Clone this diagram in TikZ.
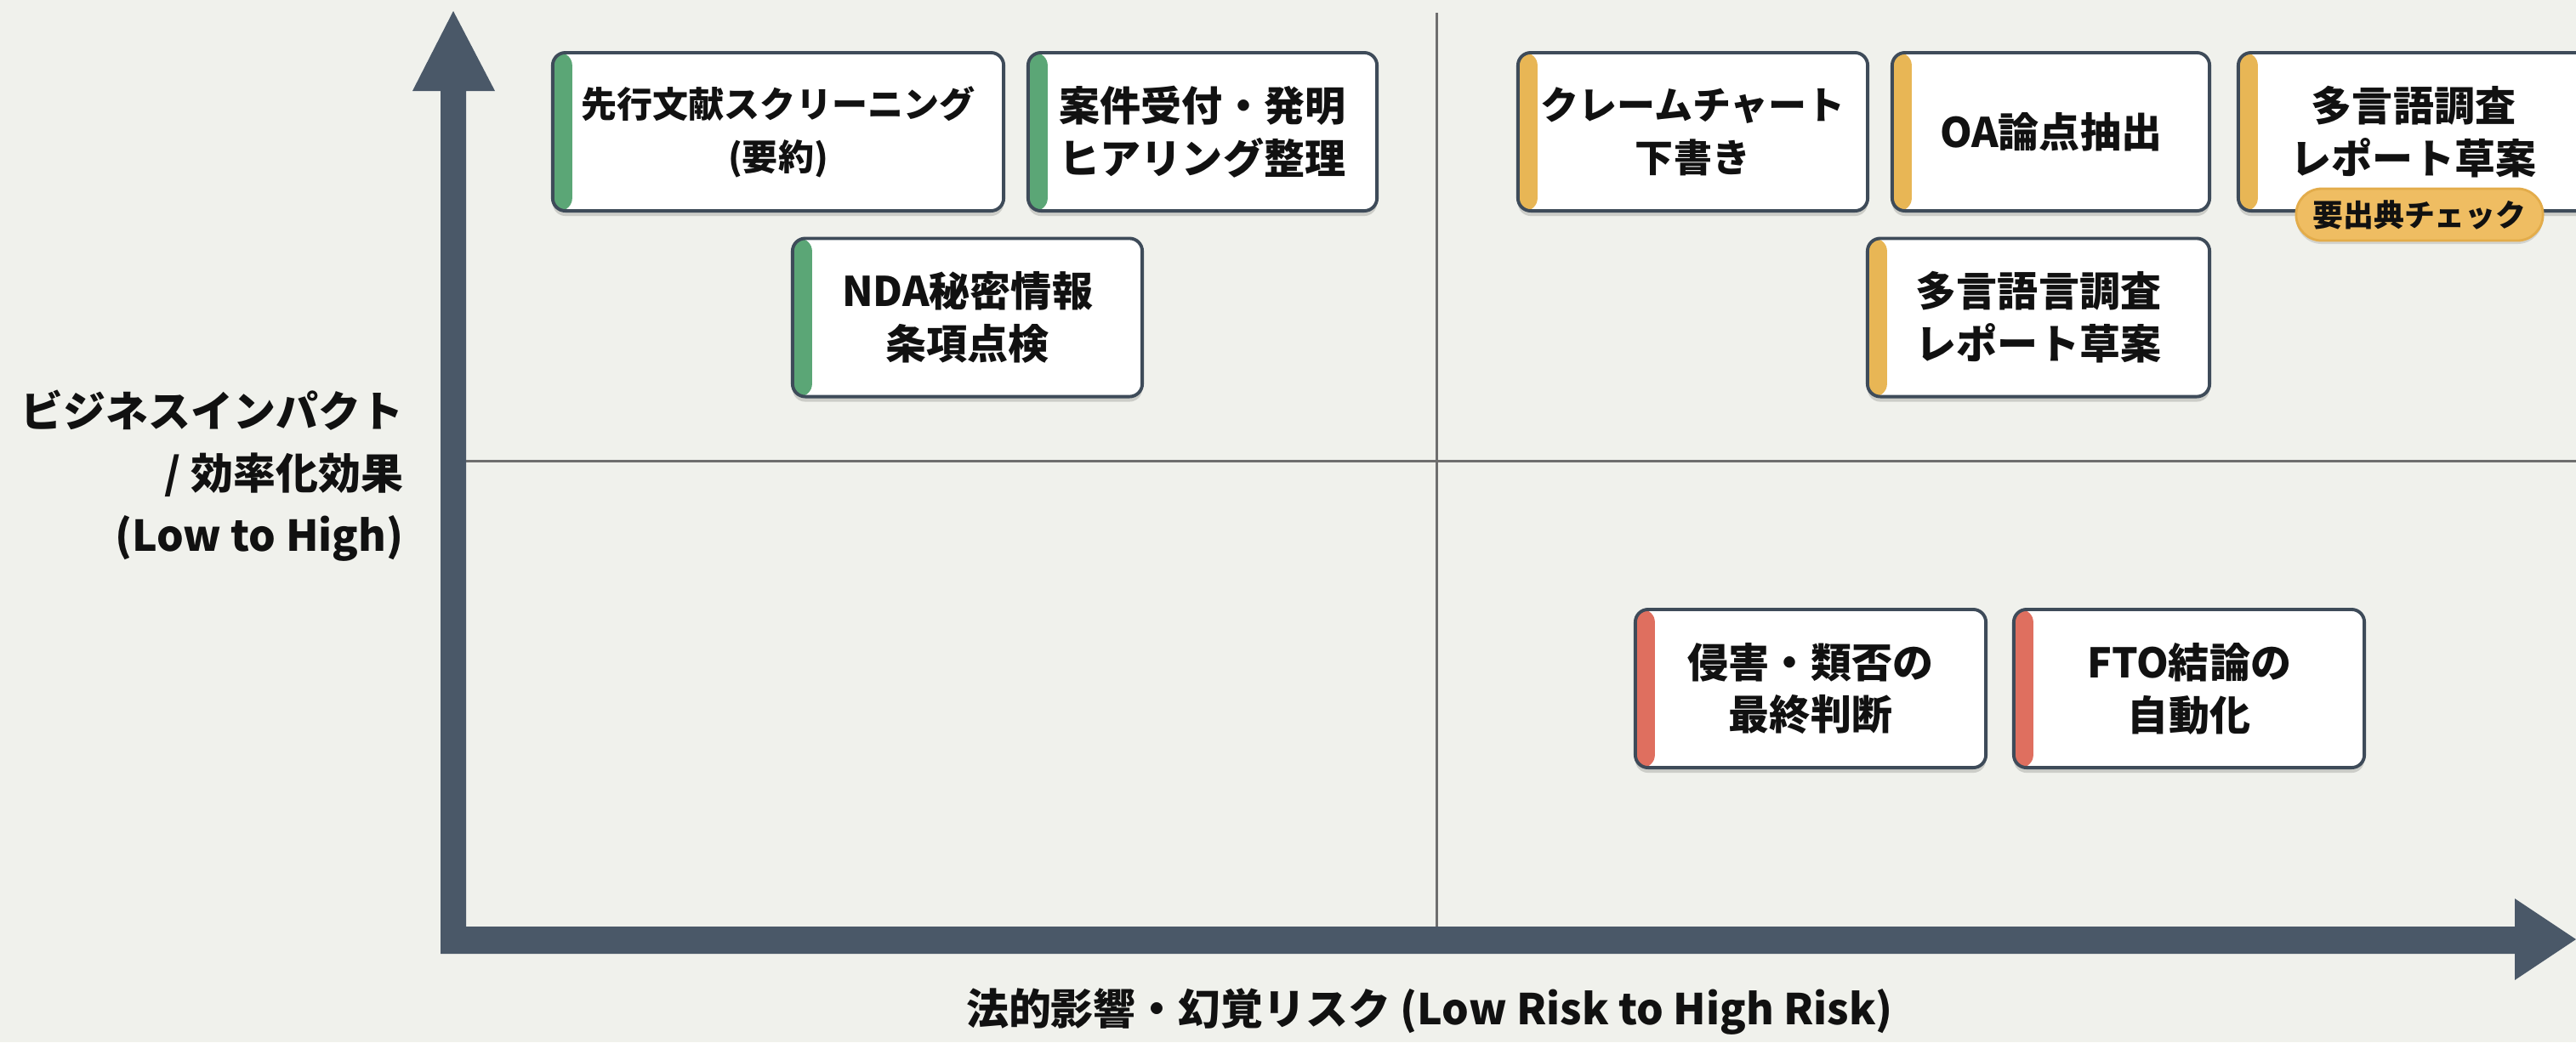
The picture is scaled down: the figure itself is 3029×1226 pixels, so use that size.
\documentclass[tikz,border=0pt]{standalone}
\usepackage{fontspec}
\setmainfont{Noto Sans CJK JP}
\usetikzlibrary{shadows}
\definecolor{bgc}{HTML}{F0F1EC}
\definecolor{axisc}{HTML}{4A5868}
\definecolor{gridc}{HTML}{6E6E6E}
\definecolor{cardb}{HTML}{3E4B59}
\definecolor{grn}{HTML}{5BA676}
\definecolor{gld}{HTML}{E8B655}
\definecolor{rdc}{HTML}{DF6F5F}
\definecolor{badgec}{HTML}{EFBD62}
\definecolor{badgeb}{HTML}{E3AC4A}
\definecolor{txt}{HTML}{111111}
\newcommand{\cardfont}{\bfseries\fontsize{13.66pt}{17.6pt}\selectfont}
\newcommand{\cardfontmd}{\bfseries\fontsize{12.8pt}{17.6pt}\selectfont}
\newcommand{\cardfontsm}{\bfseries\fontsize{11.95pt}{17.6pt}\selectfont}
\newcommand{\axisfont}{\bfseries\fontsize{14.2pt}{20.8pt}\selectfont}
\newcommand{\badgefont}{\bfseries\fontsize{10.2pt}{12pt}\selectfont}
\tikzset{
  card/.style={draw=cardb, line width=1.1pt, fill=white, rounded corners=0.15cm,
    minimum height=1.86cm, align=center, font=\cardfont, text=txt, inner sep=0pt,
    drop shadow={opacity=0.15, shadow xshift=0pt, shadow yshift=-0.06cm, fill=black},
    path picture={\fill[#1] (path picture bounding box.north west) rectangle ([xshift=0.23cm]path picture bounding box.south west);}},
  badge/.style={fill=badgec, draw=badgeb, line width=0.8pt, rounded corners=0.3cm,
    minimum width=2.90cm, minimum height=0.61cm, inner sep=0pt, font=\badgefont, text=txt,
    drop shadow={opacity=0.12, shadow xshift=0pt, shadow yshift=-0.04cm, fill=black}},
  axislabel/.style={font=\axisfont, text=txt, inner sep=0pt},
  gridline/.style={draw=gridc, line width=0.85pt},
}
\begin{document}
\begin{tikzpicture}[x=0.01cm,y=-0.01cm]
\useasboundingbox (0,0) rectangle (3029,1226);
\clip (0,0) rectangle (3029,1226);
\fill[bgc] (0,0) rectangle (3029,1226);
% quadrant lines
\draw[gridline] (1689,15) -- (1689,1092);
\draw[gridline] (548,542) -- (3029,542);
% axes
\fill[axisc] (518,107) -- (518,1122) -- (2957,1122) -- (2957,1153) -- (3029,1105)
  -- (2957,1057) -- (2957,1090) -- (548,1090) -- (548,107) -- (582,107) -- (533,13)
  -- (485,107) -- cycle;
% axis labels
\node[axislabel, align=right, anchor=east] (ylab) at (475,560)
  {ビジネスインパクト\\/ 効率化効果\\(Low to High)};
\node[axislabel] (xlab) at (1681,1190) {法的影響・幻覚リスク (Low Risk to High Risk)};
% cards
\node[card=grn, minimum width=5.30cm, font=\cardfontsm] (c1) at (915,155) {先行文献スクリーニング\\(要約)};
\node[card=grn, minimum width=4.10cm] (c2) at (1414,155) {案件受付・発明\\ヒアリング整理};
\node[card=grn, minimum width=4.11cm] (c3) at (1137.5,373.5) {NDA秘密情報\\条項点検};
\node[card=gld, minimum width=4.11cm, font=\cardfontmd] (c4) at (1990.5,155) {クレームチャート\\下書き};
\node[card=gld, minimum width=3.73cm] (c5) at (2411.5,155) {OA論点抽出};
\node[card=gld, minimum width=4.12cm] (c6) at (2838,155) {多言語調査\\レポート草案};
\node[card=gld, minimum width=4.02cm] (c7) at (2397,373.5) {多言語言調査\\レポート草案};
\node[card=rdc, minimum width=4.12cm] (c8) at (2129,810) {侵害・類否の\\最終判断};
\node[card=rdc, minimum width=4.12cm] (c9) at (2574,810) {FTO結論の\\自動化};
\node[badge] (b1) at (2845,252.5) {要出典チェック};
\end{tikzpicture}
\end{document}
